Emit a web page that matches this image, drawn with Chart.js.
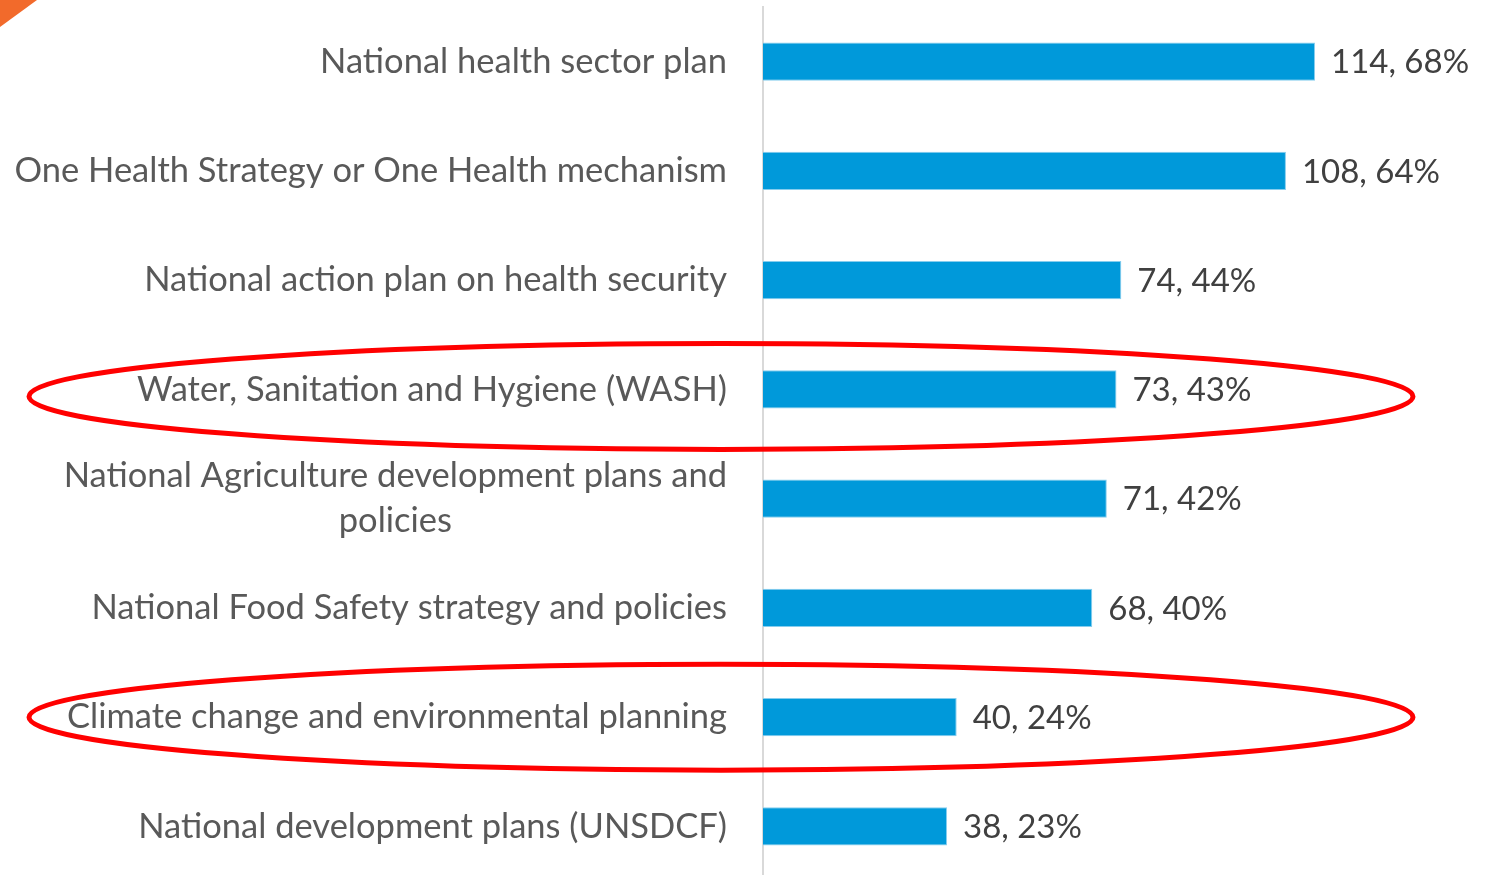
<!DOCTYPE html>
<html>
<head>
<meta charset="utf-8">
<script src="https://cdn.jsdelivr.net/npm/chart.js@4/dist/chart.umd.min.js"></script>
<style>
    html, body { margin: 0; padding: 0; background: #fff; overflow: hidden; }
</style>
</head>
<body>
<canvas id="policyChart" width="1499" height="881"></canvas>
<script>
// data
const categories = [
    'National health sector plan',
    'One Health Strategy or One Health mechanism',
    'National action plan on health security',
    'Water, Sanitation and Hygiene (WASH)',
    ['National Agriculture development plans and', 'policies'],
    'National Food Safety strategy and policies',
    'Climate change and environmental planning',
    'National development plans (UNSDCF)'
];
const counts = [114, 108, 74, 73, 71, 68, 40, 38];
const percents = [68, 64, 44, 43, 42, 40, 24, 23];
const highlighted = [3, 6]; // rows circled in red
const ringShift = [7, 0];   // the hand drawn rings sit a bit off centre

const labelFont = '34.5px Lato, "Open Sans", sans-serif';
const valueFont = '33px Lato, "Open Sans", sans-serif';

// y labels, value labels, red ellipses and the orange corner
const decorations = {
    id: 'decorations',
    afterDraw(chart) {
        const ctx = chart.ctx;
        const y = chart.scales.y;
        const x = chart.scales.x;
        const right = chart.chartArea.left - 36;

        ctx.save();
        ctx.textBaseline = 'middle';

        categories.forEach((cat, i) => {
            const cy = y.getPixelForValue(i);
            const lines = Array.isArray(cat) ? cat : [cat];
            ctx.font = labelFont;
            const widest = Math.max(...lines.map(l => ctx.measureText(l).width));
            const lineH = 45;
            ctx.fillStyle = '#595959';
            ctx.textAlign = 'center';
            lines.forEach((line, j) => {
                const ly = cy + (j - (lines.length - 1) / 2) * lineH;
                ctx.fillText(line, right - widest / 2, ly);
            });

            ctx.font = valueFont;
            ctx.fillStyle = '#404040';
            ctx.textAlign = 'left';
            ctx.fillText(counts[i] + ', ' + percents[i] + '%', x.getPixelForValue(counts[i]) + 16, cy + 1);
        });

        ctx.strokeStyle = '#ff0000';
        ctx.lineWidth = 5;
        highlighted.forEach((i, k) => {
            const cy = y.getPixelForValue(i) + ringShift[k];
            ctx.beginPath();
            ctx.ellipse(721, cy, 692, 53, 0, 0, Math.PI * 2);
            ctx.stroke();
        });

        ctx.fillStyle = '#f26a2b';
        ctx.beginPath();
        ctx.moveTo(0, 0);
        ctx.lineTo(37, 0);
        ctx.lineTo(0, 27);
        ctx.closePath();
        ctx.fill();
        ctx.restore();
    }
};

new Chart(document.getElementById('policyChart'), {
    type: 'bar',
    data: {
        labels: categories,
        datasets: [{
            data: counts,
            backgroundColor: '#0099da',
            borderColor: '#86cdee',
            borderWidth: 1,
            categoryPercentage: 1,
            barPercentage: 0.35
        }]
    },
    options: {
        indexAxis: 'y',
        responsive: false,
        animation: false,
        devicePixelRatio: 1,
        layout: { padding: { top: 7, right: 0, bottom: 0, left: 0 } },
        plugins: {
            legend: { display: false },
            tooltip: { enabled: false }
        },
        scales: {
            x: {
                display: false,
                min: 0,
                max: 152
            },
            y: {
                grid: { display: false },
                border: { display: true, color: '#d9d9d9', width: 2 },
                ticks: { display: false },
                afterFit(scale) { scale.width = 763; }
            }
        }
    },
    plugins: [decorations]
});
</script>
</body>
</html>
